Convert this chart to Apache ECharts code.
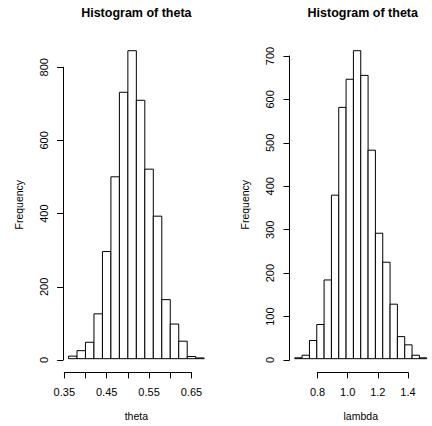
<!DOCTYPE html>
<html>
<head>
<meta charset="utf-8">
<script src="https://cdn.jsdelivr.net/npm/echarts@6/dist/echarts.min.js"></script>
<style>
html,body{margin:0;padding:0;background:#fff;}
#chart{width:432px;height:426px;}
</style>
</head>
<body>
<div id="chart"></div>
<script>
// ---- data ----
const titles = ['Histogram of theta', 'Histogram of theta'];
const xNames = ['theta', 'lambda'];
const yName = 'Frequency';

const thetaBreaks = [0.36, 0.38, 0.40, 0.42, 0.44, 0.46, 0.48, 0.50, 0.52, 0.54, 0.56, 0.58, 0.60, 0.62, 0.64, 0.66, 0.68];
const thetaCounts = [7, 22, 45, 123, 294, 499, 731, 845, 709, 520, 391, 162, 95, 48, 6, 2];

const lambdaBreaks = [0.65, 0.70, 0.75, 0.80, 0.85, 0.90, 0.95, 1.00, 1.05, 1.10, 1.15, 1.20, 1.25, 1.30, 1.35, 1.40, 1.45, 1.50, 1.55];
const lambdaCounts = [2, 8, 42, 79, 182, 378, 581, 646, 712, 655, 482, 290, 223, 126, 51, 32, 8, 2];

const thetaXTicks = [0.35, 0.40, 0.45, 0.50, 0.55, 0.60, 0.65];
const thetaXTickLabels = ['0.35', '0.45', '0.55', '0.65'];
const thetaYTicks = [0, 200, 400, 600, 800];
const lambdaXTicks = [0.8, 1.0, 1.2, 1.4];
const lambdaXTickLabels = ['0.8', '1.0', '1.2', '1.4'];
const lambdaYTicks = [0, 100, 200, 300, 400, 500, 600, 700];

// ---- layout ----
const FONT = '"Liberation Sans", Arial, Helvetica, sans-serif';
const panels = [
  {left: 63.1, top: 38.4, width: 146.5, height: 334,
   breaks: thetaBreaks, counts: thetaCounts, xTicks: thetaXTicks, yTicks: thetaYTicks,
   xFmt: v => v.toFixed(2), xShow: thetaXTickLabels},
  {left: 289.5, top: 38.4, width: 146.5, height: 334,
   breaks: lambdaBreaks, counts: lambdaCounts, xTicks: lambdaXTicks, yTicks: lambdaYTicks,
   xFmt: v => v.toFixed(1), xShow: lambdaXTickLabels}
];

const grid = [], xAxis = [], yAxis = [], series = [], title = [];
const lineStyle = {color: '#000', width: 1};

panels.forEach((p, k) => {
  const b = p.breaks;
  const xr = b[b.length - 1] - b[0];
  const xlim = [b[0] - 0.04 * xr, b[b.length - 1] + 0.04 * xr];
  const cmax = Math.max(...p.counts);
  const ylim = [-0.04 * cmax, cmax * 1.04];
  const px = v => p.left + (v - xlim[0]) / (xlim[1] - xlim[0]) * p.width;
  const py = v => p.top + (ylim[1] - v) / (ylim[1] - ylim[0]) * p.height;

  const xt0 = p.xTicks[0], xt1 = p.xTicks[p.xTicks.length - 1];
  const yt0 = p.yTicks[0], yt1 = p.yTicks[p.yTicks.length - 1];
  const gi = grid.length;

  // data grid
  grid.push({left: p.left, top: p.top, width: p.width, height: p.height, containLabel: false});
  // x-axis display grid
  grid.push({left: px(xt0), top: p.top, width: px(xt1) - px(xt0), height: p.height, containLabel: false});
  // y-axis display grid
  grid.push({left: p.left, top: py(yt1), width: p.width, height: py(yt0) - py(yt1), containLabel: false});

  const nameStyle = {fontFamily: FONT, fontSize: 10.5, color: '#000'};
  xAxis.push({gridIndex: gi, type: 'value', min: xlim[0], max: xlim[1],
    axisLine: {show: false}, axisTick: {show: false}, axisLabel: {show: false}, splitLine: {show: false},
    name: xNames[k], nameLocation: 'middle', nameGap: 39, nameTextStyle: nameStyle});
  yAxis.push({gridIndex: gi, type: 'value', min: ylim[0], max: ylim[1],
    axisLine: {show: false}, axisTick: {show: false}, axisLabel: {show: false}, splitLine: {show: false},
    name: yName, nameLocation: 'middle', nameGap: 39, nameTextStyle: nameStyle});

  xAxis.push({gridIndex: gi + 1, type: 'value', position: 'bottom',
    min: xt0, max: xt1, interval: p.xTicks[1] - p.xTicks[0],
    axisLine: {show: true, lineStyle: lineStyle},
    axisTick: {show: true, length: 6, lineStyle: lineStyle},
    axisLabel: {show: true, margin: 14, fontFamily: FONT, fontSize: 11, color: '#000',
      showMinLabel: true, showMaxLabel: true,
      formatter: v => { const s = p.xFmt(v); return p.xShow.indexOf(s) >= 0 ? s : ''; }},
    splitLine: {show: false}});
  yAxis.push({gridIndex: gi + 1, type: 'value', show: false, min: 0, max: 1});

  xAxis.push({gridIndex: gi + 2, type: 'value', show: false, min: 0, max: 1});
  yAxis.push({gridIndex: gi + 2, type: 'value', position: 'left',
    min: yt0, max: yt1, interval: p.yTicks[1] - p.yTicks[0],
    axisLine: {show: true, lineStyle: lineStyle},
    axisTick: {show: true, length: 6, lineStyle: lineStyle},
    axisLabel: {show: true, rotate: 90, margin: 14, fontFamily: FONT, fontSize: 11, color: '#000',
      showMinLabel: true, showMaxLabel: true},
    splitLine: {show: false}});

  const data = p.counts.map((c, i) => [b[i], b[i + 1], c]);
  series.push({
    type: 'custom', xAxisIndex: gi, yAxisIndex: gi, clip: false,
    encode: {x: [0, 1], y: 2},
    data: data,
    renderItem: (params, api) => {
      const a = api.coord([api.value(0), 0]);
      const c = api.coord([api.value(1), api.value(2)]);
      return {type: 'rect',
        shape: {x: a[0], y: c[1], width: c[0] - a[0], height: a[1] - c[1]},
        style: {fill: '#fff', stroke: '#000', lineWidth: 1}};
    }
  });

  title.push({text: titles[k], left: p.left + p.width / 2, top: 5.5, textAlign: 'center', padding: 0,
    textStyle: {fontFamily: FONT, fontSize: 12.5, fontWeight: 'bold', color: '#000', lineHeight: 14}});
});

const chart = echarts.init(document.getElementById('chart'), null, {renderer: 'svg'});
chart.setOption({
  animation: false,
  backgroundColor: '#fff',
  title: title,
  grid: grid,
  xAxis: xAxis,
  yAxis: yAxis,
  series: series
});
</script>
</body>
</html>
